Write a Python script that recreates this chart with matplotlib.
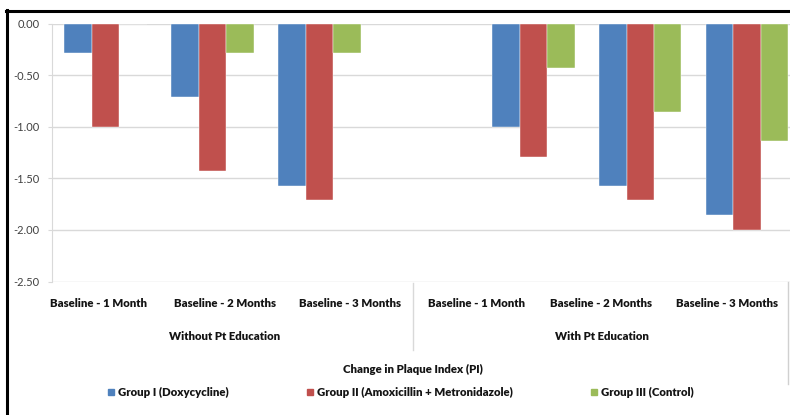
import matplotlib.pyplot as plt
from matplotlib.lines import Line2D
from matplotlib.patches import Patch

# change in plaque index, per interval, for each group
intervals = ['Baseline - 1 Month', 'Baseline - 2 Months', 'Baseline - 3 Months']
sections = ['Without Pt Education', 'With Pt Education']
groups = ['Group I (Doxycycline)', 'Group II (Amoxicillin + Metronidazole)', 'Group III (Control)']
colors = ['#4F81BD', '#C0504D', '#9BBB59']

group1 = [-0.29, -0.71, -1.57, -1.00, -1.57, -1.86]
group2 = [-1.00, -1.43, -1.71, -1.29, -1.71, -2.00]
group3 = [0.00, -0.29, -0.29, -0.43, -0.86, -1.14]

yticks = [0.0, -0.5, -1.0, -1.5, -2.0, -2.5]

plt.rcParams['font.family'] = ['Lato', 'DejaVu Sans']

W, H = 790, 415
fig = plt.figure(figsize=(W / 100, H / 100), dpi=100)

ax_left, ax_right, ax_top, ax_bottom = 52, 790, 23.5, 281.5
ax = fig.add_axes([ax_left / W, 1 - ax_bottom / H, (ax_right - ax_left) / W, (ax_bottom - ax_top) / H])

# the two sections sit side by side with one empty slot between them
slots = [0, 1, 2, 4, 5, 6]
width = 0.257
for k, (vals, c) in enumerate(zip([group1, group2, group3], colors)):
    xs = [s + (k - 1) * width for s in slots]
    ax.bar(xs, vals, width=width, color=c, edgecolor='white', linewidth=0.3, zorder=3)

ax.set_xlim(-0.5, 6.4)
ax.set_ylim(-2.5, 0)
ax.set_yticks(yticks)
ax.set_yticklabels(['%.2f' % v for v in yticks], fontsize=8, color='#404040')
ax.yaxis.grid(True, color='#d9d9d9', linewidth=1, zorder=0)
ax.set_xticks([])
for side in ['top', 'right', 'bottom']:
    ax.spines[side].set_visible(False)
ax.spines['left'].set_color('#d9d9d9')
ax.tick_params(axis='y', length=3, color='#d9d9d9', pad=6)

bold = dict(fontsize=8.2, fontweight='heavy', color='#141414')

# category labels below the plot
label_px = [99, 225, 350, 476, 601, 727]
for i, px in enumerate(label_px):
    fig.text(px / W, 1 - 303 / H, intervals[i % 3], ha='center', va='center', **bold)
for px, name in zip([225, 602], sections):
    fig.text(px / W, 1 - 337 / H, name, ha='center', va='center', **bold)
fig.add_artist(Line2D([413 / W, 413 / W], [1 - 283 / H, 1 - 350 / H], color='#d9d9d9', linewidth=1))

fig.text(413 / W, 1 - 369 / H, 'Change in Plaque Index (PI)', ha='center', va='center', **bold)

handles = [Patch(color=c, label=g) for c, g in zip(colors, groups)]
for h, px in zip(handles, [108, 307, 591]):
    fig.add_artist(plt.Rectangle((px / W, 1 - 394.5 / H), 5.5 / W, 5.5 / H, color=h.get_facecolor(), transform=fig.transFigure))
    fig.text((px + 10) / W, 1 - 392 / H, h.get_label(), ha='left', va='center', **bold)

# outer frame
fig.add_artist(Line2D([7 / W, 7 / W], [0, 1 - 10 / H], color='black', linewidth=2.2))
fig.add_artist(Line2D([6 / W, 1], [1 - 11 / H, 1 - 11 / H], color='black', linewidth=2.2))
fig.add_artist(Line2D([788 / W, 788 / W], [1 - 282 / H, 1 - 384 / H], color='#d0d0d0', linewidth=1))

fig.savefig('out.png', dpi=100)
